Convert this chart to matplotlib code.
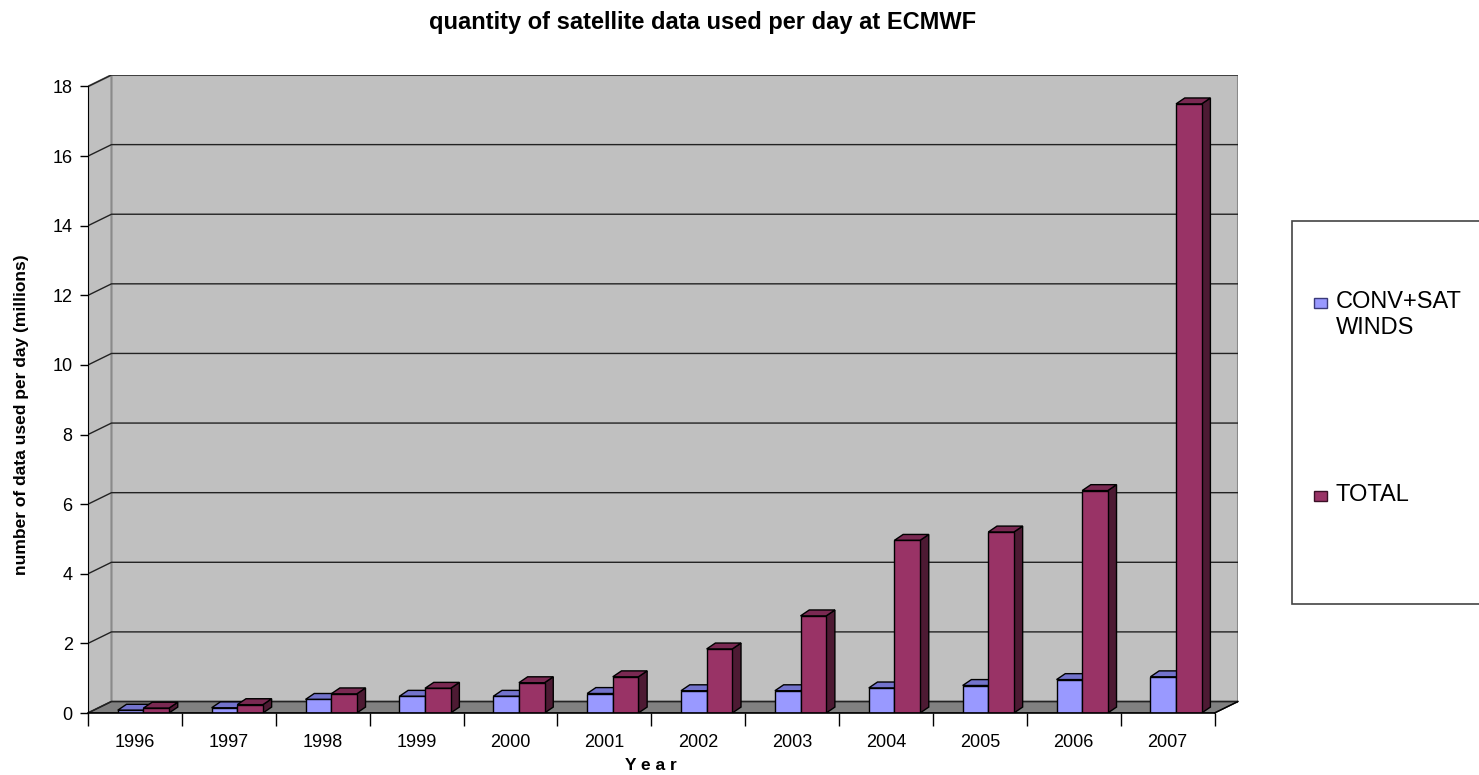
import numpy as np
import matplotlib.pyplot as plt
from matplotlib.patches import Polygon, Rectangle

plt.rcParams['font.family'] = ['Liberation Sans', 'DejaVu Sans']

# data (millions of data per day)
years = ['1996', '1997', '1998', '1999', '2000', '2001',
         '2002', '2003', '2004', '2005', '2006', '2007']
conv_sat_winds = [0.08, 0.15, 0.39, 0.48, 0.48, 0.56,
                  0.64, 0.64, 0.72, 0.79, 0.96, 1.04]
total = [0.14, 0.24, 0.55, 0.71, 0.87, 1.04,
         1.84, 2.79, 4.96, 5.2, 6.39, 17.5]
yticks = [0, 2, 4, 6, 8, 10, 12, 14, 16, 18]

# fake 3d geometry (category units / value units)
n = len(years)
DX, DY = 0.25, 0.33      # wall depth
BDX, BDY = 0.093, 0.17   # bar depth
W = 0.273                # bar width
OFF = 0.09               # pair shift to the right
YMAX = 18

fig = plt.figure(figsize=(14.79, 7.75), dpi=100)
ax = fig.add_axes([88 / 1479, 62 / 775, 1150 / 1479, 638 / 775])
ax.set_xlim(0, n + DX)
ax.set_ylim(0, YMAX + DY)
for s in ['top', 'right', 'bottom']:
    ax.spines[s].set_visible(False)
ax.spines['left'].set_bounds(0, YMAX)
ax.spines['left'].set_zorder(6)

# walls and floor
ax.add_patch(Polygon([(DX, DY), (n + DX, DY), (n + DX, YMAX + DY), (DX, YMAX + DY)],
                     closed=True, fc='#c0c0c0', ec='#8a8a8a', lw=1.5, zorder=1))
ax.add_patch(Polygon([(0, 0), (DX, DY), (DX, YMAX + DY), (0, YMAX)],
                     closed=True, fc='#c0c0c0', ec='#8a8a8a', lw=1.5, zorder=1))
ax.add_patch(Polygon([(0, 0), (n, 0), (n + DX, DY), (DX, DY)],
                     closed=True, fc='#808080', ec='#222222', lw=1, zorder=2))

# gridlines on side and back wall
for v in yticks:
    ax.plot([0, DX, n + DX], [v, v + DY, v + DY], color='#222222', lw=1, zorder=2)

# bars
def bar3d(x0, v, front, top, side):
    x1 = x0 + W
    ax.add_patch(Polygon([(x1, 0), (x1 + BDX, BDY), (x1 + BDX, v + BDY), (x1, v)],
                         closed=True, fc=side, ec='black', lw=1, zorder=4))
    ax.add_patch(Polygon([(x0, v), (x0 + BDX, v + BDY), (x1 + BDX, v + BDY), (x1, v)],
                         closed=True, fc=top, ec='black', lw=1, zorder=4))
    ax.add_patch(Rectangle((x0, 0), W, v, fc=front, ec='black', lw=1, zorder=4))

for i in range(n):
    c = i + 0.5 + OFF
    bar3d(c - W, conv_sat_winds[i], '#9999ff', '#7373cc', '#4d4d80')
    bar3d(c, total[i], '#993366', '#7a2952', '#4d1a33')

# x axis line and right floor edge
ax.plot([0, n], [0, 0], color='black', lw=1.2, zorder=5, clip_on=False)
ax.plot([n, n + DX], [0, DY], color='black', lw=1, zorder=5, clip_on=False)

ax.set_xticks(np.arange(n + 1))
ax.set_xticklabels([])
ax.tick_params(axis='x', which='major', length=9, width=1, direction='out')
ax.set_xticks(np.arange(n) + 0.5, minor=True)
ax.set_xticklabels(years, minor=True, fontsize=13)
ax.tick_params(axis='x', which='minor', length=0, pad=15)

ax.set_yticks(yticks)
ax.set_yticklabels([str(v) for v in yticks], fontsize=13)
ax.tick_params(axis='y', length=6, width=1, direction='out', pad=5)

fig.text(651 / 1479, 1 - 766 / 775, 'Y e a r', ha='center', va='center',
         fontsize=12.5, fontweight='bold')
fig.text(22 / 1479, 1 - 415 / 775, 'number of data used per day (millions)',
         rotation=90, ha='center', va='center', fontsize=12.5, fontweight='bold')

fig.text(703 / 1479, 1 - 22 / 775, 'quantity of satellite data used per day at ECMWF',
         ha='center', va='center', fontsize=17, fontweight='bold')

# legend box (runs off the right edge like the original)
fig.patches.append(Rectangle((1292 / 1479, 1 - 604 / 775), 200 / 1479, 383 / 775,
                             transform=fig.transFigure, fc='white', ec='#444444',
                             lw=1.2, clip_on=False))
for fc, ec, label, ypx in [('#9999ff', '#3a3a7a', 'CONV+SAT\nWINDS', 303),
                           ('#993366', '#3a1026', 'TOTAL', 496)]:
    fig.patches.append(Rectangle((1314 / 1479, 1 - (ypx + 5) / 775), 13 / 1479, 10 / 775,
                                 transform=fig.transFigure, fc=fc, ec=ec, lw=1))
    fig.text(1336 / 1479, 1 - (ypx - 12) / 775, label, ha='left', va='top',
             fontsize=17, linespacing=1.25)

fig.savefig('out.png', dpi=100)
